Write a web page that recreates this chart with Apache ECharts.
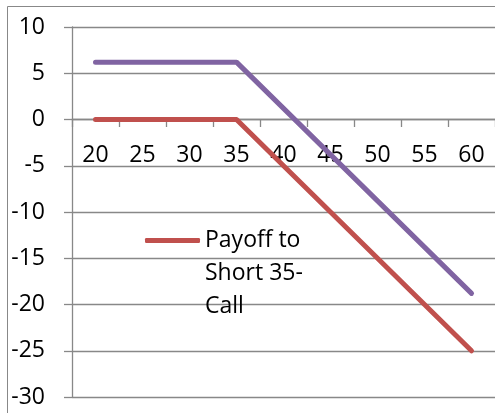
<!DOCTYPE html>
<html>
<head>
<meta charset="utf-8">
<script src="https://cdn.jsdelivr.net/npm/echarts@6/dist/echarts.min.js"></script>
<style>
  html, body { margin: 0; padding: 0; background: #fff; }
  #chart { width: 495px; height: 413px; }
</style>
</head>
<body>
<div id="chart"></div>
<script>
// stock prices at expiry
const prices = ['20', '25', '30', '35', '40', '45', '50', '55', '60']
// payoff to short 35 call
const shortCall = [0, 0, 0, 0, -5, -10, -15, -20, -25]
// profit (payoff plus premium)
const profit = [6.2, 6.2, 6.2, 6.2, 1.2, -3.8, -8.8, -13.8, -18.8]

const chart = echarts.init(document.getElementById('chart'))
const fontFamily = '"Open Sans", sans-serif'
const gridColor = '#888888'

// plot area: 10 at y=27, -30 at y=397, so 0 sits 278px above the bottom
const gridTop = 27
const gridBottom = 16
const zeroOffset = -278

const option = {
  animation: false,
  graphic: [{
    type: 'rect',
    shape: { x: 7.5, y: 6.5, width: 500, height: 420 },
    style: { fill: 'none', stroke: gridColor, lineWidth: 1 },
    z: -1
  }],
  grid: { left: 72, top: gridTop, right: 0, bottom: gridBottom, outerBoundsMode: 'none', containLabel: false },
  legend: {
    data: ['Payoff to Short 35-Call'],
    left: 140,
    top: 153,
    icon: 'roundRect',
    itemWidth: 55,
    itemHeight: 5,
    formatter: () => ' \n \nPayoff to\nShort 35-\nCall',
    textStyle: { fontFamily, fontSize: 23, color: '#000', lineHeight: 33 }
  },
  xAxis: {
    type: 'category',
    data: prices,
    position: 'bottom',
    offset: zeroOffset,
    axisLine: { onZero: false, lineStyle: { color: gridColor, width: 1.3 } },
    axisTick: { show: true, length: 8, lineStyle: { color: gridColor, width: 1.3 } },
    axisLabel: { show: true, interval: 0, margin: 25, fontFamily, fontSize: 23, color: '#000' }
  },
  yAxis: {
    type: 'value',
    min: -30,
    max: 10,
    interval: 5,
    axisLine: { show: true, lineStyle: { color: gridColor, width: 1.3 } },
    axisTick: { show: true, length: 8, lineStyle: { color: gridColor, width: 1.3 } },
    splitLine: { lineStyle: { color: gridColor, width: 1.3 } },
    axisLabel: { margin: 27, fontFamily, fontSize: 23, color: '#000' }
  },
  series: [
    {
      name: 'Payoff to Short 35-Call',
      type: 'line',
      data: shortCall,
      showSymbol: false,
      color: '#C0504D',
      z: 5,
      lineStyle: { width: 5, cap: 'round', join: 'round' }
    },
    {
      name: 'Profit',
      type: 'line',
      data: profit,
      showSymbol: false,
      color: '#8064A2',
      z: 5,
      lineStyle: { width: 5, cap: 'round', join: 'round' }
    }
  ]
}
chart.setOption(option)
</script>
</body>
</html>
